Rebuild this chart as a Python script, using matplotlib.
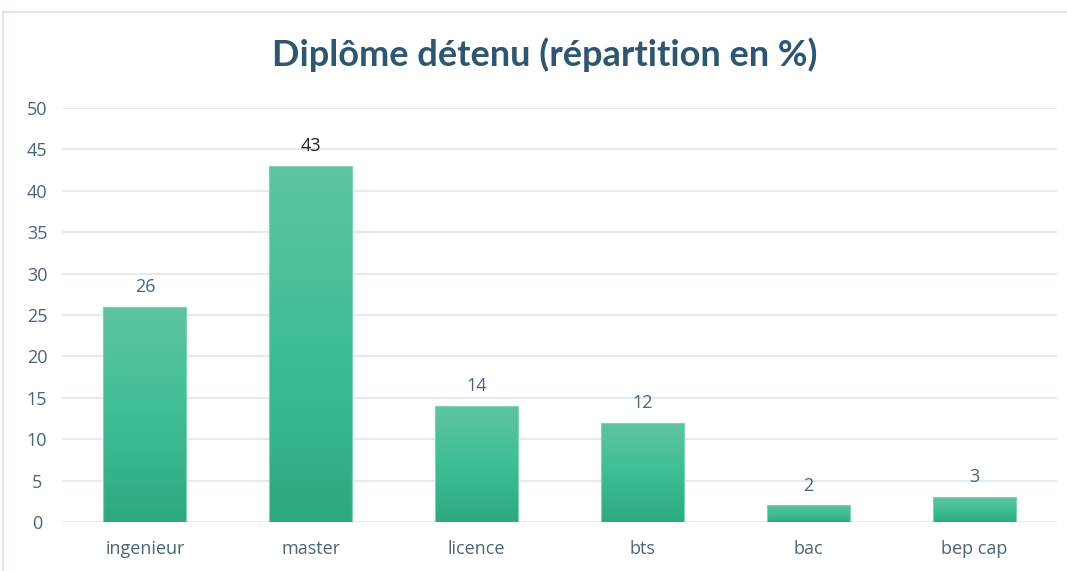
import numpy as np
import matplotlib.pyplot as plt
from matplotlib.colors import LinearSegmentedColormap
from matplotlib.patches import Rectangle

categories = ["ingenieur", "master", "licence", "bts", "bac", "bep cap"]
values = [26, 43, 14, 12, 2, 3]

title_col = "#2F5670"
tick_col = "#4A6479"
grid_col = "#E3EAF0"
grad = LinearSegmentedColormap.from_list("g", ["#2DA980", "#3FBE95", "#5EC4A1"])

fig = plt.figure(figsize=(10.67, 5.71), dpi=100)
ax = fig.add_axes([62 / 1067, 1 - 522 / 571, 995 / 1067, (522 - 108) / 571])

# outer chart frame
fig.add_artist(Rectangle((3 / 1067, -0.05), 1.1, 1 - 12 / 571 + 0.05,
                         transform=fig.transFigure, fill=False,
                         ec="#DDE6EE", lw=1.5))

x = np.arange(len(categories))
bars = ax.bar(x, values, width=0.5, color="none", ec="#7FD3B5", lw=0.8, zorder=3)
g = np.linspace(0, 1, 256).reshape(-1, 1)
for b in bars:
    x0, y0 = b.get_x(), b.get_y()
    im = ax.imshow(g, cmap=grad, aspect="auto", origin="lower",
                   extent=[x0, x0 + b.get_width(), y0, y0 + b.get_height()],
                   zorder=2)
    im.set_clip_path(b)

for i, v in enumerate(values):
    ax.text(x[i], v + 1.3, str(v), ha="center", va="bottom", fontsize=13,
            color="#222222" if v == 43 else tick_col, family="Open Sans")

ax.set_xlim(-0.5, 5.5)
ax.set_ylim(0, 50)
ax.set_yticks(range(0, 51, 5))
ax.set_xticks(x)
ax.set_xticklabels(categories)
ax.grid(axis="y", color=grid_col, lw=1.5, zorder=0)
ax.set_axisbelow(True)
for s in ax.spines.values():
    s.set_visible(False)
ax.tick_params(length=0, labelsize=13, colors=tick_col)
ax.tick_params(axis="x", pad=13)
ax.tick_params(axis="y", pad=18)
for lab in ax.get_xticklabels():
    lab.set_family("Open Sans")
for lab in ax.get_yticklabels():
    lab.set_family("Open Sans")
    lab.set_horizontalalignment("center")

fig.text(545 / 1067, 1 - 55 / 571, "Diplôme détenu (répartition en %)",
         ha="center", va="center", fontsize=26, fontweight="bold",
         color=title_col, family="Lato")

fig.savefig("out.png", dpi=100)
